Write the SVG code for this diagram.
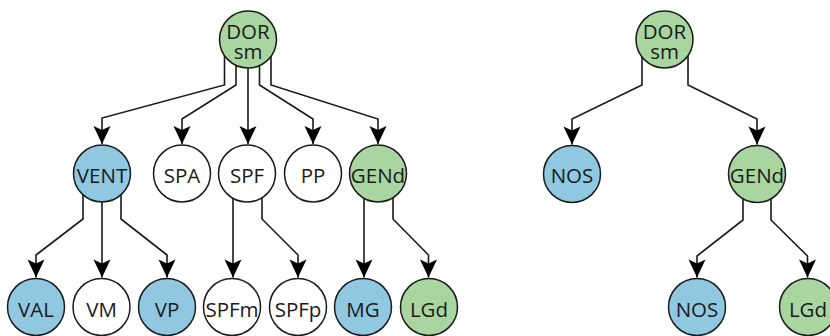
<svg xmlns="http://www.w3.org/2000/svg" width="830" height="336" viewBox="0 0 830 336">
<style>
.n{stroke:#1a1a1a;stroke-width:1.5}
.g{fill:#a8d5a0}.b{fill:#8fc8e0}.w{fill:#ffffff}
.t{font-family:"Open Sans","Noto Sans",sans-serif;font-size:20.5px;fill:#1a1a1a;text-anchor:middle}
.c{fill:none;stroke:#1a1a1a;stroke-width:1.6;marker-end:url(#ah)}
</style>
<defs>
<marker id="ah" markerUnits="userSpaceOnUse" markerWidth="22" markerHeight="22" viewBox="-20 -10 22 20" refX="0" refY="0" orient="auto">
<path d="M0,0 L-18,-8.5 L-14,0 L-18,8.5 Z" fill="#000"/>
</marker>
</defs>
<g id="connectors">
<path class="c" d="M224.5,50 V85 L102,118 V144"/>
<path class="c" d="M236,50 V85 L182,119 V144"/>
<path class="c" d="M248,50 V144"/>
<path class="c" d="M259.5,50 V85 L313,119 V144"/>
<path class="c" d="M271,50 V85 L378,119 V144"/>
<path class="c" d="M83,190 V219 L36,255 V277.5"/>
<path class="c" d="M102,190 V277.5"/>
<path class="c" d="M121,190 V219 L167,255 V277.5"/>
<path class="c" d="M233,190 V277.5"/>
<path class="c" d="M262,190 V219 L298,255 V277.5"/>
<path class="c" d="M364,190 V277.5"/>
<path class="c" d="M393,190 V219 L428.5,255 V277.5"/>
<path class="c" d="M642,50 V85 L572,119 V144.5"/>
<path class="c" d="M688,50 V85 L757,119 V144.5"/>
<path class="c" d="M743,190 V220 L697,256 V277.5"/>
<path class="c" d="M771,190 V220 L807.5,256 V277.5"/>
</g>
<g id="dorsm1"><circle class="n g" cx="248" cy="39.5" r="28.5"/><text class="t" x="248" y="39">DOR</text><text class="t" x="248" y="58.5">sm</text></g>
<g id="vent"><circle class="n b" cx="102" cy="173.5" r="28.5"/><text class="t" x="102" y="182.5">VENT</text></g>
<g id="spa"><circle class="n w" cx="182" cy="173.5" r="28.5"/><text class="t" x="182" y="182.5">SPA</text></g>
<g id="spf"><circle class="n w" cx="247" cy="173.5" r="28.5"/><text class="t" x="247" y="182.5">SPF</text></g>
<g id="pp"><circle class="n w" cx="313" cy="173.5" r="28.5"/><text class="t" x="313" y="182.5">PP</text></g>
<g id="gend1"><circle class="n g" cx="378" cy="173.5" r="28.5"/><text class="t" x="378" y="182.5">GENd</text></g>
<g id="val"><circle class="n b" cx="36" cy="307" r="28.5"/><text class="t" x="36" y="316.5">VAL</text></g>
<g id="vm"><circle class="n w" cx="101.5" cy="307" r="28.5"/><text class="t" x="101.5" y="316.5">VM</text></g>
<g id="vp"><circle class="n b" cx="167" cy="307" r="28.5"/><text class="t" x="167" y="316.5">VP</text></g>
<g id="spfm"><circle class="n w" cx="232" cy="307" r="28.5"/><text class="t" x="232" y="316.5">SPFm</text></g>
<g id="spfp"><circle class="n w" cx="298" cy="307" r="28.5"/><text class="t" x="298" y="316.5">SPFp</text></g>
<g id="mg"><circle class="n b" cx="363" cy="307" r="28.5"/><text class="t" x="363" y="316.5">MG</text></g>
<g id="lgd1"><circle class="n g" cx="429" cy="307" r="28.5"/><text class="t" x="429" y="316.5">LGd</text></g>
<g id="dorsm2"><circle class="n g" cx="664.5" cy="39.5" r="28.5"/><text class="t" x="664.5" y="39">DOR</text><text class="t" x="664.5" y="58.5">sm</text></g>
<g id="nos1"><circle class="n b" cx="572" cy="174" r="28.5"/><text class="t" x="572" y="183">NOS</text></g>
<g id="gend2"><circle class="n g" cx="757" cy="174" r="28.5"/><text class="t" x="757" y="183">GENd</text></g>
<g id="nos2"><circle class="n b" cx="697" cy="307" r="28.5"/><text class="t" x="697" y="316.5">NOS</text></g>
<g id="lgd2"><circle class="n g" cx="808" cy="307" r="28.5"/><text class="t" x="808" y="316.5">LGd</text></g>
</svg>
